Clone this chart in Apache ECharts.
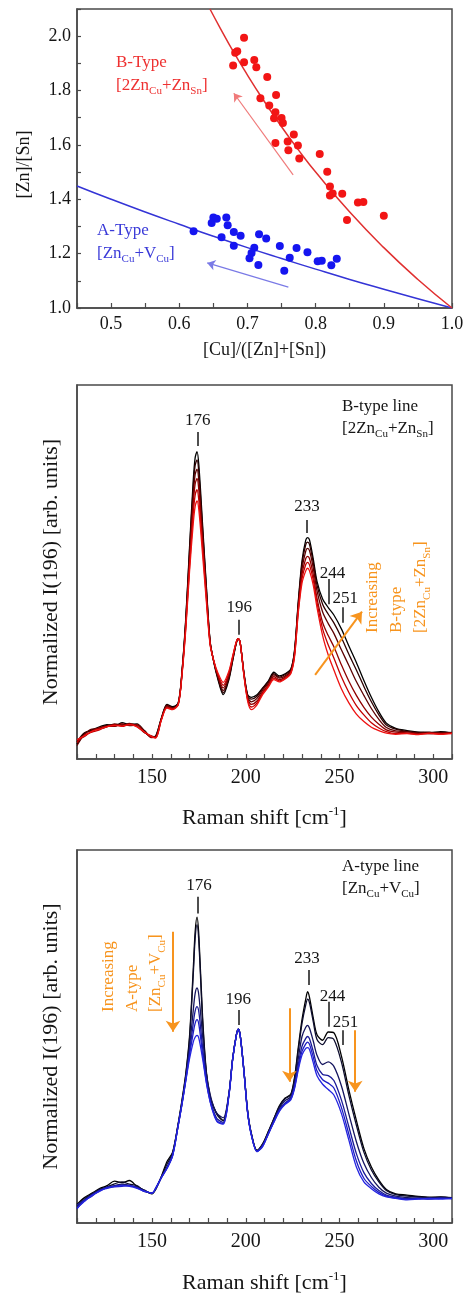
<!DOCTYPE html>
<html><head><meta charset="utf-8">
<script src="https://cdn.jsdelivr.net/npm/echarts@6/dist/echarts.min.js"></script>
<style>html,body{margin:0;padding:0;background:#fff}#c{width:465px;height:1293px}</style>
</head><body><div id="c"></div>
<script>
// ---------- Panel 1: composition scatter ----------
const redCu    = [0.695,0.685,0.682,0.679,0.695,0.710,0.713,0.729,0.719,0.732,0.742,0.741,0.739,0.750,0.752,0.741,0.768,0.759,0.760,0.774,0.776,0.806,0.817,0.821,0.821,0.825,0.839,0.846,0.862,0.870,0.900];
const redZnSn  = [1.994,1.945,1.939,1.892,1.904,1.912,1.886,1.850,1.772,1.745,1.784,1.720,1.698,1.699,1.681,1.607,1.638,1.613,1.580,1.598,1.550,1.567,1.501,1.447,1.414,1.421,1.420,1.324,1.388,1.390,1.339];
const blueCu   = [0.621,0.6475,0.650,0.655,0.669,0.671,0.662,0.680,0.690,0.680,0.717,0.7275,0.710,0.706,0.703,0.716,0.7475,0.772,0.788,0.762,0.754,0.803,0.809,0.831,0.823];
const blueZnSn = [1.282,1.313,1.333,1.328,1.333,1.304,1.260,1.280,1.266,1.229,1.271,1.256,1.222,1.202,1.183,1.158,1.228,1.221,1.205,1.185,1.137,1.172,1.174,1.181,1.157];
const fitBCu   = [0.645,0.66,0.68,0.70,0.72,0.75,0.78,0.80,0.85,0.90,0.95,1.00];
const fitBZnSn = [2.100,2.030,1.940,1.857,1.778,1.667,1.564,1.500,1.353,1.222,1.105,1.000];
const fitACu   = [0.45,0.50,0.55,0.60,0.65,0.70,0.75,0.80,0.85,0.90,0.95,1.00];
const fitAZnSn = [1.449,1.400,1.353,1.308,1.264,1.222,1.182,1.143,1.105,1.069,1.034,1.000];
const arrowB1 = [[0.767,1.49],[0.680,1.79]];
const arrowA1 = [[0.760,1.077],[0.641,1.166]];

// ---------- Panels 2 & 3: Raman spectra ----------
const ramanShift = [110,114,118,122,126,130,134,138,142,146,
 150,152,155,158,161,164,166,168,170,172,
 173,174,175,177,179,181,183,185,188,191,
 193,195,196,197,199,201,203,206,209,212,
 215,218,221,224,226,228,230,232,233,234,
 236,238,241,244,247,251,255,259,263,267,
 271,275,280,286,292,298,304,310];

const specB1 = [0.040,0.068,0.078,0.086,0.092,0.087,0.097,0.092,0.094,0.074,
 0.058,0.062,0.108,0.146,0.140,0.150,0.235,0.375,0.565,0.745,
 0.805,0.822,0.785,0.625,0.462,0.315,0.258,0.216,0.172,0.212,
 0.262,0.310,0.322,0.312,0.232,0.172,0.165,0.172,0.190,0.208,
 0.232,0.222,0.228,0.240,0.290,0.420,0.530,0.585,0.592,0.586,
 0.535,0.475,0.428,0.405,0.385,0.348,0.302,0.258,0.210,0.165,
 0.126,0.096,0.082,0.076,0.072,0.070,0.073,0.070];
const specB2 = [0.046,0.070,0.076,0.083,0.090,0.092,0.093,0.089,0.091,0.076,
 0.058,0.060,0.110,0.142,0.138,0.150,0.233,0.370,0.555,0.728,
 0.785,0.800,0.765,0.612,0.456,0.314,0.259,0.219,0.177,0.216,
 0.264,0.311,0.322,0.312,0.231,0.170,0.160,0.168,0.188,0.206,
 0.228,0.219,0.226,0.238,0.287,0.415,0.521,0.573,0.580,0.574,
 0.525,0.465,0.414,0.387,0.364,0.325,0.280,0.238,0.194,0.153,
 0.118,0.091,0.080,0.074,0.071,0.072,0.069,0.071];
const specB3 = [0.036,0.066,0.080,0.081,0.086,0.094,0.090,0.095,0.088,0.070,
 0.061,0.058,0.108,0.144,0.136,0.148,0.231,0.365,0.540,0.705,
 0.760,0.775,0.742,0.598,0.448,0.312,0.260,0.222,0.183,0.220,
 0.267,0.312,0.322,0.312,0.229,0.166,0.153,0.162,0.184,0.203,
 0.225,0.216,0.222,0.235,0.284,0.410,0.508,0.556,0.563,0.557,
 0.511,0.450,0.393,0.362,0.336,0.292,0.250,0.207,0.170,0.135,
 0.106,0.084,0.075,0.073,0.069,0.068,0.071,0.069];
const specB4 = [0.050,0.060,0.075,0.084,0.088,0.087,0.094,0.090,0.092,0.073,
 0.057,0.059,0.106,0.140,0.135,0.147,0.229,0.358,0.525,0.682,
 0.735,0.750,0.718,0.582,0.440,0.310,0.260,0.225,0.190,0.226,
 0.270,0.313,0.322,0.312,0.228,0.163,0.146,0.155,0.179,0.198,
 0.220,0.212,0.219,0.232,0.280,0.402,0.494,0.536,0.542,0.536,
 0.493,0.430,0.365,0.330,0.300,0.252,0.208,0.170,0.138,0.112,
 0.093,0.078,0.072,0.070,0.068,0.070,0.068,0.070];
const specB5 = [0.044,0.064,0.072,0.078,0.087,0.091,0.087,0.093,0.087,0.071,
 0.059,0.057,0.105,0.138,0.134,0.145,0.227,0.352,0.512,0.656,
 0.705,0.720,0.690,0.565,0.430,0.308,0.261,0.228,0.197,0.230,
 0.272,0.313,0.322,0.312,0.226,0.159,0.139,0.150,0.176,0.195,
 0.216,0.209,0.216,0.230,0.276,0.396,0.482,0.520,0.526,0.519,
 0.479,0.418,0.348,0.305,0.270,0.220,0.178,0.143,0.118,0.097,
 0.083,0.073,0.068,0.069,0.066,0.068,0.067,0.069];
const specB6 = [0.052,0.062,0.074,0.080,0.086,0.090,0.088,0.092,0.086,0.072,
 0.060,0.056,0.104,0.136,0.132,0.146,0.225,0.345,0.500,0.630,
 0.675,0.690,0.665,0.545,0.420,0.305,0.262,0.232,0.205,0.235,
 0.275,0.314,0.322,0.312,0.225,0.155,0.132,0.145,0.172,0.192,
 0.212,0.206,0.214,0.228,0.272,0.390,0.470,0.503,0.510,0.503,
 0.465,0.405,0.330,0.278,0.238,0.188,0.150,0.120,0.100,0.085,
 0.076,0.069,0.066,0.068,0.065,0.069,0.066,0.068];

const specA1 = [0.050,0.068,0.080,0.092,0.100,0.112,0.108,0.114,0.098,0.088,
 0.078,0.092,0.125,0.165,0.190,0.268,0.330,0.400,0.500,0.680,
 0.780,0.820,0.770,0.550,0.405,0.340,0.310,0.290,0.275,0.345,
 0.440,0.505,0.520,0.505,0.410,0.300,0.240,0.195,0.212,0.245,
 0.280,0.315,0.335,0.345,0.390,0.470,0.545,0.600,0.620,0.605,
 0.550,0.505,0.490,0.512,0.510,0.448,0.357,0.275,0.200,0.150,
 0.115,0.090,0.078,0.075,0.071,0.069,0.070,0.067];
const specA2 = [0.045,0.064,0.078,0.090,0.097,0.105,0.110,0.104,0.100,0.086,
 0.080,0.090,0.124,0.158,0.188,0.266,0.326,0.396,0.492,0.665,
 0.762,0.800,0.752,0.540,0.400,0.337,0.308,0.288,0.274,0.344,
 0.440,0.505,0.520,0.505,0.410,0.299,0.239,0.194,0.211,0.244,
 0.279,0.312,0.333,0.343,0.386,0.462,0.535,0.585,0.600,0.590,
 0.540,0.492,0.478,0.497,0.492,0.432,0.342,0.262,0.190,0.142,
 0.110,0.087,0.076,0.072,0.070,0.068,0.069,0.068];
const specA3 = [0.042,0.060,0.077,0.088,0.095,0.100,0.104,0.101,0.096,0.087,
 0.079,0.093,0.123,0.150,0.184,0.264,0.322,0.388,0.470,0.570,
 0.615,0.630,0.610,0.500,0.400,0.345,0.310,0.292,0.282,0.347,
 0.439,0.504,0.520,0.505,0.409,0.298,0.238,0.193,0.210,0.241,
 0.276,0.308,0.328,0.338,0.375,0.440,0.500,0.525,0.530,0.522,
 0.488,0.450,0.425,0.432,0.420,0.368,0.292,0.218,0.160,0.122,
 0.096,0.080,0.072,0.068,0.067,0.068,0.066,0.067];
const specA4 = [0.048,0.062,0.075,0.086,0.096,0.099,0.102,0.100,0.095,0.084,
 0.081,0.092,0.121,0.148,0.182,0.263,0.320,0.384,0.458,0.535,
 0.568,0.580,0.565,0.470,0.385,0.330,0.298,0.278,0.270,0.343,
 0.439,0.504,0.520,0.504,0.409,0.297,0.237,0.192,0.207,0.239,
 0.273,0.304,0.322,0.334,0.366,0.424,0.474,0.495,0.500,0.494,
 0.460,0.422,0.398,0.395,0.382,0.330,0.258,0.186,0.135,0.106,
 0.087,0.075,0.069,0.065,0.066,0.065,0.067,0.066];
const specA5 = [0.038,0.060,0.072,0.087,0.093,0.097,0.098,0.101,0.094,0.086,
 0.080,0.093,0.122,0.147,0.181,0.262,0.319,0.382,0.450,0.510,
 0.535,0.545,0.532,0.452,0.378,0.326,0.293,0.272,0.267,0.342,
 0.438,0.503,0.520,0.504,0.408,0.296,0.236,0.192,0.206,0.238,
 0.271,0.302,0.320,0.332,0.363,0.416,0.460,0.480,0.485,0.479,
 0.445,0.408,0.384,0.375,0.362,0.310,0.238,0.166,0.120,0.098,
 0.082,0.072,0.067,0.064,0.065,0.064,0.066,0.065];
const specA6 = [0.040,0.058,0.074,0.085,0.094,0.098,0.100,0.098,0.093,0.085,
 0.080,0.094,0.122,0.146,0.180,0.262,0.318,0.380,0.440,0.485,
 0.498,0.503,0.495,0.440,0.375,0.325,0.290,0.270,0.265,0.340,
 0.438,0.503,0.520,0.504,0.408,0.296,0.235,0.191,0.205,0.238,
 0.270,0.300,0.318,0.330,0.360,0.410,0.450,0.468,0.470,0.465,
 0.430,0.395,0.372,0.358,0.343,0.294,0.222,0.150,0.110,0.092,
 0.078,0.070,0.066,0.062,0.064,0.066,0.064,0.066];

// peak annotations
const peakNames = ['176','196','233','244','251'];
const peakTextB = [[174.4,0.904],[196.5,0.404],[232.7,0.674],[246.2,0.497],[253.0,0.428]];
const peakTickB = [[174.4,0.837,0.874],[196.5,0.332,0.372],[232.7,0.604,0.639],[244.1,0.414,0.481],[251.6,0.364,0.406]];
const peakTextA = [[175.1,0.904],[196.0,0.600],[232.6,0.708],[246.2,0.606],[253.2,0.537]];
const peakTickA = [[174.6,0.830,0.875],[196.0,0.531,0.571],[233.4,0.638,0.678],[244.1,0.526,0.593],[251.6,0.477,0.517]];
const orangeArrowsB = [[[237.0,0.225],[262.0,0.394]]];
const orangeArrowsA = [[[161.2,0.781],[161.2,0.513]],[[223.3,0.576],[223.3,0.379]],[[258.4,0.517],[258.4,0.352]]];

// ---------- drawing ----------
const SERIF = '"Liberation Serif", "Times New Roman", serif';
const AX = '#4a4a4a';
const TXT = '#151515';
const ORANGE = '#f7941e';
const colorsB = ['#000000','#2e0000','#5c0000','#8f0000','#c20000','#ee1111'];
const colorsA = ['#000000','#0d0d2e','#15155e','#1a1a96','#1e1ec4','#2424e0'];
const specB = [specB1,specB2,specB3,specB4,specB5,specB6];
const specA = [specA1,specA2,specA3,specA4,specA5,specA6];

function pairs(xs, ys){ return xs.map((x,i)=>[x, ys[i]]); }

const chart = echarts.init(document.getElementById('c'), null, {renderer:'canvas', width:465, height:1293});

const gridBase = {show:true, borderColor:AX, borderWidth:1.5, backgroundColor:'#fff', containLabel:false, outerBoundsMode:'none'};
const tickStyle = {show:true, inside:true, length:5, lineStyle:{color:AX, width:1.2}};
const lineAx = {show:true, lineStyle:{color:AX, width:1.5}};
const nameRich = {
  n:{fontSize:22, fontFamily:SERIF, color:TXT, lineHeight:26},
  sup:{fontSize:13, fontFamily:SERIF, color:TXT, lineHeight:12, verticalAlign:'top'}
};

function specXAxis(gi, gap){
  return {gridIndex:gi, type:'value', min:110, max:310, interval:10,
    axisLine:lineAx, axisTick:tickStyle, splitLine:{show:false},
    axisLabel:{margin:9, fontFamily:SERIF, fontSize:20, color:TXT,
      formatter:v => (Math.round(v)%50===0 ? String(Math.round(v)) : '')},
    name:'{n|Raman shift [cm}{sup|-1}{n|]}', nameLocation:'middle', nameGap:gap,
    nameTextStyle:{fontFamily:SERIF, fontSize:22, color:TXT, rich:nameRich}};
}
function specYAxis(gi){
  return {gridIndex:gi, type:'value', min:0, max:1,
    axisLine:lineAx, axisTick:{show:false}, axisLabel:{show:false}, splitLine:{show:false},
    name:'Normalized I(196) [arb. units]', nameLocation:'middle', nameGap:15,
    nameTextStyle:{fontFamily:SERIF, fontSize:22, color:TXT}};
}

const series = [];
// panel 1
series.push({type:'line', xAxisIndex:0, yAxisIndex:0, data:pairs(fitACu, fitAZnSn), smooth:true, symbol:'none',
  lineStyle:{color:'#3434d6', width:1.5}, silent:true, z:2});
series.push({type:'line', xAxisIndex:0, yAxisIndex:0, data:pairs(fitBCu, fitBZnSn), smooth:true, symbol:'none',
  lineStyle:{color:'#e03030', width:1.5}, silent:true, z:2});
series.push({type:'scatter', xAxisIndex:0, yAxisIndex:0, data:pairs(redCu, redZnSn), symbolSize:8,
  itemStyle:{color:'#f21515', opacity:1}, silent:true, z:3});
series.push({type:'scatter', xAxisIndex:0, yAxisIndex:0, data:pairs(blueCu, blueZnSn), symbolSize:8,
  itemStyle:{color:'#1515f0', opacity:1}, silent:true, z:3,
  markLine:{silent:true, symbol:['none','none'], label:{show:false}, animation:false,
    data:[
      [{coord:arrowB1[0], symbol:'none', lineStyle:{color:'#f07a7a', width:1.2, type:'solid'}},
       {coord:arrowB1[1], symbol:'arrow', symbolSize:8}],
      [{coord:arrowA1[0], symbol:'none', lineStyle:{color:'#7a7ae6', width:1.2, type:'solid'}},
       {coord:arrowA1[1], symbol:'arrow', symbolSize:8}]
    ]}});

// panel 2 & 3 spectra
specB.forEach((arr,i)=>series.push({type:'line', xAxisIndex:1, yAxisIndex:1, data:pairs(ramanShift, arr),
  smooth:0.3, symbol:'none', lineStyle:{color:colorsB[i], width:1.3}, silent:true, z:2}));
specA.forEach((arr,i)=>series.push({type:'line', xAxisIndex:2, yAxisIndex:2, data:pairs(ramanShift, arr),
  smooth:0.3, symbol:'none', lineStyle:{color:colorsA[i], width:1.3}, silent:true, z:2}));

function annotSeries(gi, texts, ticks, arrows){
  return {type:'scatter', xAxisIndex:gi, yAxisIndex:gi, symbolSize:1, silent:true, z:5,
    itemStyle:{color:'rgba(255,255,255,0)', opacity:1},
    data:texts.map((p,i)=>({value:p, name:peakNames[i]})),
    label:{show:true, position:'inside', formatter:'{b}', fontFamily:SERIF, fontSize:17, color:TXT,
      textBorderWidth:0, textBorderColor:'transparent', opacity:1},
    markLine:{silent:true, symbol:['none','none'], label:{show:false}, animation:false,
      data: ticks.map(t=>[{coord:[t[0],t[1]], lineStyle:{color:TXT, width:1.5, type:'solid'}},{coord:[t[0],t[2]]}])
        .concat(arrows.map(a=>[{coord:a[0], symbol:'none', lineStyle:{color:ORANGE, width:2, type:'solid'}},
                               {coord:a[1], symbol:'arrow', symbolSize:11}]))
    }};
}
series.push(annotSeries(1, peakTextB, peakTickB, orangeArrowsB));
series.push(annotSeries(2, peakTextA, peakTickA, orangeArrowsA));

function rich(color, size, lh){
  return {
    n:{fontSize:size, fontFamily:SERIF, fill:color, color:color, lineHeight:lh},
    s:{fontSize:Math.round(size*0.64), fontFamily:SERIF, fill:color, color:color, lineHeight:10, verticalAlign:'bottom'}
  };
}
function txt(x, y, text, color, size, lh, rot){
  return {type:'text', x:x, y:y, rotation:rot||0, z:100, silent:true,
    style:{text:text, rich:rich(color,size,lh), align:'left', verticalAlign:'top',
      fontFamily:SERIF, fontSize:size, fill:color}};
}

const option = {
  animation:false,
  backgroundColor:'#fff',
  grid:[
    Object.assign({left:77, top:9, width:375, height:299}, gridBase),
    Object.assign({left:77, top:385, width:375, height:374}, gridBase),
    Object.assign({left:77, top:850, width:375, height:373}, gridBase)
  ],
  xAxis:[
    {gridIndex:0, type:'value', min:0.45, max:1.0, interval:0.05,
     axisLine:lineAx, axisTick:tickStyle, splitLine:{show:false},
     axisLabel:{margin:7, fontFamily:SERIF, fontSize:18, color:TXT,
       formatter:v => (Math.abs(v*10-Math.round(v*10))<1e-6 ? v.toFixed(1) : '')},
     name:'[Cu]/([Zn]+[Sn])', nameLocation:'middle', nameGap:33,
     nameTextStyle:{fontFamily:SERIF, fontSize:18, color:TXT}},
    specXAxis(1, 46),
    specXAxis(2, 47)
  ],
  yAxis:[
    {gridIndex:0, type:'value', min:1.0, max:2.1, interval:0.1,
     axisLine:lineAx, axisTick:{show:true, inside:true, length:4, lineStyle:{color:AX, width:1.2}}, splitLine:{show:false},
     axisLabel:{margin:6, fontFamily:SERIF, fontSize:18, color:TXT,
       formatter:v => (Math.round(v*10)%2===0 && v<2.05 ? v.toFixed(1) : '')},
     name:'[Zn]/[Sn]', nameLocation:'middle', nameGap:44,
     nameTextStyle:{fontFamily:SERIF, fontSize:18, color:TXT, padding:[0,12,0,0]}},
    specYAxis(1),
    specYAxis(2)
  ],
  series:series,
  graphic:[
    txt(116, 51, '{n|B-Type}\n{n|[2Zn}{s|Cu}{n|+Zn}{s|Sn}{n|]}', '#ee3030', 17, 23),
    txt(97, 219, '{n|A-Type}\n{n|[Zn}{s|Cu}{n|+V}{s|Cu}{n|]}', '#3a3ad8', 17, 23),
    txt(342, 396, '{n|B-type line}\n{n|[2Zn}{s|Cu}{n|+Zn}{s|Sn}{n|]}', TXT, 17, 22),
    txt(342, 856, '{n|A-type line}\n{n|[Zn}{s|Cu}{n|+V}{s|Cu}{n|]}', TXT, 17, 22),
    txt(361, 633, '{n|Increasing}\n{n|B-type}\n{n|[2Zn}{s|Cu}{n|+Zn}{s|Sn}{n|]}', ORANGE, 17, 24, Math.PI/2),
    txt(97, 1012, '{n|Increasing}\n{n|A-type}\n{n|[Zn}{s|Cu}{n|+V}{s|Cu}{n|]}', ORANGE, 17, 23.5, Math.PI/2)
  ]
};
chart.setOption(option);
</script>
</body></html>
